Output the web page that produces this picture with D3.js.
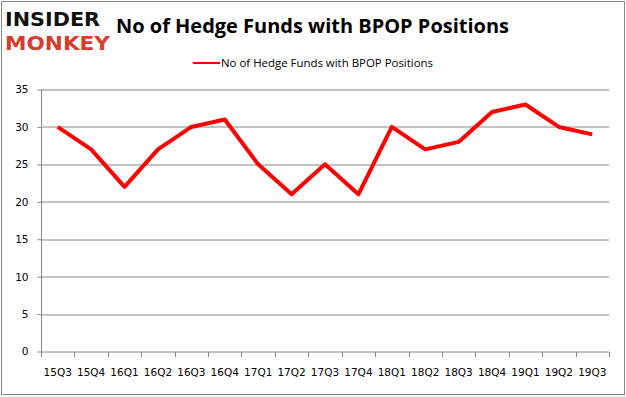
<!DOCTYPE html>
<html>
<head>
<meta charset="utf-8">
<script src="https://cdnjs.cloudflare.com/ajax/libs/d3/7.8.5/d3.min.js"></script>
<style>
  body { margin: 0; background: #fff; }
  svg { display: block; }
</style>
</head>
<body>
<script>
// chart data
var quarters = ["15Q3","15Q4","16Q1","16Q2","16Q3","16Q4","17Q1","17Q2","17Q3",
                "17Q4","18Q1","18Q2","18Q3","18Q4","19Q1","19Q2","19Q3"];
var funds    = [30, 27, 22, 27, 30, 31, 25, 21, 25, 21, 30, 27, 28, 32, 33, 30, 29];
var yTicks   = [0, 5, 10, 15, 20, 25, 30, 35];
var seriesName = "No of Hedge Funds with BPOP Positions";
var titleText  = "No of Hedge Funds with BPOP Positions";

var width  = 626;
var height = 397;
var margin = {top: 89.5, right: 17, bottom: 45.5, left: 41};

var svg = d3.select("body").append("svg")
    .attr("width", width)
    .attr("height", height);

// outer frame
svg.append("rect")
    .attr("x", 1.5).attr("y", 1.5)
    .attr("width", width - 3).attr("height", height - 4)
    .attr("fill", "#fff")
    .attr("stroke", "#888").attr("stroke-width", 1);

// logo
svg.append("text")
    .attr("x", 5).attr("y", 26)
    .attr("textLength", 95).attr("lengthAdjust", "spacingAndGlyphs")
    .style("font-family", "DejaVu Sans").style("font-weight", "bold")
    .style("font-size", "20px").attr("fill", "#111")
    .text("INSIDER");
svg.append("text")
    .attr("x", 5).attr("y", 50)
    .attr("textLength", 105).attr("lengthAdjust", "spacingAndGlyphs")
    .style("font-family", "DejaVu Sans").style("font-weight", "bold")
    .style("font-size", "20px").attr("fill", "#d63d2a")
    .text("MONKEY");

// title
svg.append("text")
    .attr("x", 116).attr("y", 33)
    .attr("textLength", 393).attr("lengthAdjust", "spacingAndGlyphs")
    .style("font-family", "Open Sans").style("font-weight", "bold")
    .style("font-size", "20px").attr("fill", "#000")
    .text(titleText);

var cWidth  = width - margin.left - margin.right;
var cHeight = height - margin.top - margin.bottom;

var g = svg.append("g")
    .attr("transform", "translate(" + margin.left + "," + margin.top + ")");

var x = d3.scaleBand().domain(quarters).range([0, cWidth]);
var y = d3.scaleLinear().domain([0, 35]).range([cHeight, 0]);

// gridlines
g.selectAll(".grid").data(yTicks.filter(function(d) { return d > 0; }))
  .enter().append("line")
    .attr("x1", 0).attr("x2", cWidth)
    .attr("y1", function(d) { return Math.round(y(d)) + 0.5; })
    .attr("y2", function(d) { return Math.round(y(d)) + 0.5; })
    .attr("stroke", "#868686").attr("stroke-width", 1);

// y axis
var yAxis = g.append("g")
    .attr("transform", "translate(0.5,0)")
    .call(d3.axisLeft(y).tickValues(yTicks).tickSize(4).tickPadding(9));
yAxis.select(".domain").attr("stroke", "#868686").attr("d", "M0," + (cHeight + 0.5) + "V0");
yAxis.selectAll(".tick line").attr("stroke", "#868686");
yAxis.selectAll("text")
    .style("font-family", "DejaVu Sans").style("font-size", "10.5px").attr("fill", "#000");

// x axis
var xAxis = g.append("g")
    .attr("transform", "translate(0," + (Math.round(cHeight) + 0.5) + ")")
    .call(d3.axisBottom(x).tickSize(0).tickPadding(17));
xAxis.select(".domain").attr("stroke", "#868686").attr("d", "M0,0H" + cWidth);
xAxis.selectAll("text")
    .style("font-family", "DejaVu Sans").style("font-size", "10.5px").attr("fill", "#000");

// category boundary ticks
var bounds = quarters.map(function(q) { return x(q); }).concat([cWidth]);
xAxis.selectAll(".bound").data(bounds).enter().append("line")
    .attr("x1", function(d) { return Math.round(d) + 0.5; })
    .attr("x2", function(d) { return Math.round(d) + 0.5; })
    .attr("y1", 0).attr("y2", 5)
    .attr("stroke", "#868686");

// line
var line = d3.line()
    .x(function(d, i) { return x(quarters[i]) + x.bandwidth() / 2; })
    .y(function(d) { return y(d); });

g.append("path")
    .datum(funds)
    .attr("fill", "none")
    .attr("stroke", "#ff0000")
    .attr("stroke-width", 4)
    .attr("stroke-linejoin", "round")
    .attr("d", line);

// legend
svg.append("line")
    .attr("x1", 193).attr("x2", 220)
    .attr("y1", 63).attr("y2", 63)
    .attr("stroke", "#ff0000").attr("stroke-width", 2);
svg.append("text")
    .attr("x", 221).attr("y", 67)
    .attr("textLength", 212).attr("lengthAdjust", "spacingAndGlyphs")
    .style("font-family", "Open Sans").style("font-size", "11px").attr("fill", "#000")
    .text(seriesName);
</script>
</body>
</html>
